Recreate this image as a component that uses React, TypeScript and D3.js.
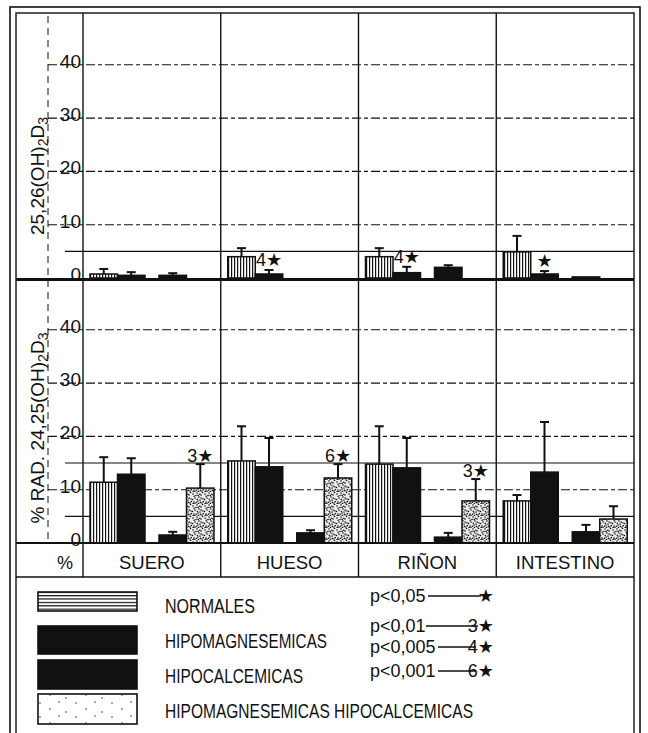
import React from "react";
import * as d3 from "d3";

// ---------- DATA ----------
const categories = ["SUERO", "HUESO", "RIÑON", "INTESTINO"];
const seriesNames = [
  "NORMALES",
  "HIPOMAGNESEMICAS",
  "HIPOCALCEMICAS",
  "HIPOMAGNESEMICAS  HIPOCALCEMICAS",
];
const yTicks = [0, 10, 20, 30, 40];

// Top panel: 25,26(OH)2D3 — means and SD per category
const top_normales = [0.75, 4.0, 4.0, 4.9];
const top_normales_sd = [0.95, 1.6, 1.6, 3.0];
const top_hipomag = [0.5, 0.75, 1.0, 0.75];
const top_hipomag_sd = [0.6, 0.75, 1.1, 0.55];
const top_hipocalc = [0.5, 0, 2.0, 0.2];
const top_hipocalc_sd = [0.4, 0, 0.4, 0];
const top_mix = [0, 0, 0, 0];
const top_mix_sd = [0, 0, 0, 0];

// Bottom panel: % RAD. 24,25(OH)2D3
const bot_normales = [11.4, 15.4, 14.8, 7.9];
const bot_normales_sd = [4.7, 6.5, 7.1, 1.1];
const bot_hipomag = [12.9, 14.3, 14.1, 13.3];
const bot_hipomag_sd = [3.0, 5.4, 5.6, 9.4];
const bot_hipocalc = [1.5, 1.9, 1.1, 2.1];
const bot_hipocalc_sd = [0.6, 0.5, 0.8, 1.3];
const bot_mix = [10.3, 12.2, 7.9, 4.5];
const bot_mix_sd = [4.5, 2.6, 4.1, 2.4];

// Significance annotations: [category, series index, label]
const top_annotations: [string, number, string][] = [
  ["HUESO", 1, "4★"],
  ["RIÑON", 1, "4★"],
  ["INTESTINO", 1, "★"],
];
const bot_annotations: [string, number, string][] = [
  ["SUERO", 3, "3★"],
  ["HUESO", 3, "6★"],
  ["RIÑON", 3, "3★"],
];

const pLabels = ["p<0,05", "p<0,01", "p<0,005", "p<0,001"];
const pStars = ["★", "3★", "4★", "6★"];

// ---------- LAYOUT ----------
const W = 648;
const H = 733;
const FONT = "'Liberation Sans', 'DejaVu Sans', Arial, sans-serif";
const INK = "#111";

const x = d3.scaleBand<string>().domain(categories).range([83, 634]).padding(0);
const sub = d3
  .scaleBand<string>()
  .domain(["0", "1", "2", "3"])
  .range([7, 117])
  .padding(0);
const groupGap = 14;
const barX = (cat: string, i: number) =>
  (x(cat) as number) + (sub(String(i)) as number) + (i >= 2 ? groupGap : 0);
const barW = sub.bandwidth();

const yTop = d3.scaleLinear().domain([0, 50]).range([278, 11.5]);
const yBot = d3.scaleLinear().domain([0, 50]).range([543, 276.5]);

const fills = ["url(#vstripe)", INK, INK, "url(#stipple)"];

type Panel = {
  y: d3.ScaleLinear<number, number>;
  vals: number[][];
  sds: number[][];
  ann: [string, number, string][];
  solid: number[];
  annOffset: number;
};

const panels: Panel[] = [
  {
    y: yTop,
    vals: [top_normales, top_hipomag, top_hipocalc, top_mix],
    sds: [top_normales_sd, top_hipomag_sd, top_hipocalc_sd, top_mix_sd],
    ann: top_annotations,
    solid: [5],
    annOffset: 4,
  },
  {
    y: yBot,
    vals: [bot_normales, bot_hipomag, bot_hipocalc, bot_mix],
    sds: [bot_normales_sd, bot_hipomag_sd, bot_hipocalc_sd, bot_mix_sd],
    ann: bot_annotations,
    solid: [5, 15],
    annOffset: 2,
  },
];

// fixed stipple dot positions inside a 12x12 tile (texture only)
const stippleDots = [
  [1, 2], [5, 1], [9, 3], [3, 6], [7, 5], [11, 7], [2, 10], [6, 9], [10, 11],
  [4, 3.5], [8, 8], [0.5, 7.5], [6.5, 11.5], [10.5, 0.5], [3, 11.2],
  [2.2, 4.3], [7.8, 2.2], [11.3, 9.6], [5.3, 7.2], [9.2, 6.1], [1.2, 11.6],
  [4.6, 10.2], [8.4, 10.4], [6.2, 3.4],
];
const sparseDots = [[4, 3], [14, 9], [23, 2], [30, 12]];

export default function App() {
  return (
    <svg
      width={W}
      height={H}
      viewBox={`0 0 ${W} ${H}`}
      style={{ position: "absolute", left: 0, top: 0, display: "block", background: "#fff" }}
      fontFamily={FONT}
    >
      <defs>
        <pattern id="vstripe" width={3} height={10} patternUnits="userSpaceOnUse">
          <rect width={3} height={10} fill="#fff" />
          <rect x={0} width={1.2} height={10} fill={INK} />
        </pattern>
        <pattern id="hstripe" width={10} height={3.4} patternUnits="userSpaceOnUse">
          <rect width={10} height={3.4} fill="#fff" />
          <rect y={0} width={10} height={1.2} fill={INK} />
        </pattern>
        <pattern id="stipple" width={12} height={12} patternUnits="userSpaceOnUse">
          <rect width={12} height={12} fill="#eee" />
          {stippleDots.map(([cx, cy], i) => (
            <circle key={i} cx={cx} cy={cy} r={0.8} fill={INK} />
          ))}
        </pattern>
        <pattern id="sparse" width={36} height={14} patternUnits="userSpaceOnUse">
          <rect width={36} height={14} fill="#fff" />
          {sparseDots.map(([cx, cy], i) => (
            <circle key={i} cx={cx} cy={cy} r={0.7} fill={INK} />
          ))}
        </pattern>
      </defs>

      {/* outer double frame */}
      <rect x={10} y={7} width={630} height={H + 20} fill="none" stroke={INK} strokeWidth={1.6} />
      <rect x={16} y={13} width={618} height={H + 20} fill="none" stroke={INK} strokeWidth={1.4} />

      {/* dashed vertical guide in the label column */}
      <line x1={48} x2={48} y1={16} y2={543} stroke={INK} strokeWidth={1} strokeDasharray="7 5" />

      {panels.map((p, pi) => (
        <g key={pi}>
          {yTicks.filter((t) => t > 0).map((t) => (
            <line
              key={t}
              x1={48}
              x2={634}
              y1={p.y(t)}
              y2={p.y(t)}
              stroke={INK}
              strokeWidth={1.1}
              strokeDasharray="9 3 4 3"
            />
          ))}
          {p.solid.map((t) => (
            <line key={t} x1={65} x2={634} y1={p.y(t)} y2={p.y(t)} stroke={INK} strokeWidth={1.1} />
          ))}
          {yTicks.map((t) => (
            <text key={t} x={81} y={p.y(t) + 3} textAnchor="end" fontSize={19} fill={INK}>
              {t}
            </text>
          ))}
          {categories.map((cat, ci) =>
            p.vals.map((vals, si) => {
              const v = vals[ci];
              const sd = p.sds[si][ci];
              const bx = barX(cat, si);
              const cx = bx + barW / 2;
              if (v <= 0) return null;
              return (
                <g key={cat + si}>
                  {sd > 0 && (
                    <g stroke={INK} strokeWidth={2}>
                      <line x1={cx} x2={cx} y1={p.y(v)} y2={p.y(v + sd)} />
                      <line x1={cx - 4.5} x2={cx + 4.5} y1={p.y(v + sd)} y2={p.y(v + sd)} />
                    </g>
                  )}
                  <rect
                    x={bx}
                    y={p.y(v)}
                    width={barW}
                    height={p.y(0) - p.y(v)}
                    fill={fills[si]}
                    stroke={INK}
                    strokeWidth={1.5}
                  />
                </g>
              );
            })
          )}
          {p.ann.map(([cat, si, label], k) => {
            const ci = categories.indexOf(cat);
            const top = p.vals[si][ci] + p.sds[si][ci];
            return (
              <text
                key={k}
                x={barX(cat, si) + barW / 2}
                y={p.y(top) - p.annOffset}
                textAnchor="middle"
                fontSize={18}
                fill={INK}
              >
                {label}
              </text>
            );
          })}
        </g>
      ))}

      {/* axis titles */}
      <text transform={`translate(44,176) rotate(-90)`} textAnchor="middle" fontSize={19} fill={INK}>
        25,26(OH)<tspan dy={4} fontSize={14}>2</tspan>
        <tspan dy={-4}>D</tspan>
        <tspan dy={4} fontSize={14}>3</tspan>
      </text>
      <text transform={`translate(44,428) rotate(-90)`} textAnchor="middle" fontSize={19} fill={INK}>
        % RAD.  24,25(OH)<tspan dy={4} fontSize={14}>2</tspan>
        <tspan dy={-4}>D</tspan>
        <tspan dy={4} fontSize={14}>3</tspan>
      </text>

      {/* baselines / panel divider */}
      <line x1={16} x2={634} y1={279.5} y2={279.5} stroke={INK} strokeWidth={3} />
      <line x1={16} x2={634} y1={543} y2={543} stroke={INK} strokeWidth={2} />
      <line x1={16} x2={634} y1={577} y2={577} stroke={INK} strokeWidth={1.6} />

      {/* column dividers */}
      {categories.map((cat) => (
        <line
          key={cat}
          x1={x(cat) as number}
          x2={x(cat) as number}
          y1={13}
          y2={577}
          stroke={INK}
          strokeWidth={1.4}
        />
      ))}

      {/* category row */}
      <text x={65} y={569} textAnchor="middle" fontSize={18} fill={INK}>
        %
      </text>
      {categories.map((cat) => (
        <text
          key={cat}
          x={(x(cat) as number) + x.bandwidth() / 2}
          y={569}
          textAnchor="middle"
          fontSize={18.5}
          fill={INK}
        >
          {cat}
        </text>
      ))}

      {/* legend */}
      {seriesNames.map((name, i) => {
        const sw = [
          [592, 19],
          [626, 28],
          [660, 29],
          [694, 30],
        ][i];
        const lf = ["url(#hstripe)", INK, INK, "url(#sparse)"][i];
        const widths = [90, 162, 138, 308];
        const baselines = [613, 648, 683, 718];
        return (
          <g key={name}>
            <rect x={38} y={sw[0]} width={99} height={sw[1]} fill={lf} stroke={INK} strokeWidth={1.6} />
            <text
              x={165}
              y={baselines[i]}
              fontSize={19.5}
              fill={INK}
              textLength={widths[i]}
              lengthAdjust="spacingAndGlyphs"
            >
              {name}
            </text>
          </g>
        );
      })}
      {pLabels.map((lab, i) => {
        const base = [602, 632, 653, 677][i];
        const textEnd = [428, 426, 438, 438][i];
        const lineEnd = [481, 478, 476, 476][i];
        return (
          <g key={lab}>
            <text x={370} y={base} fontSize={18} fill={INK}>
              {lab}
            </text>
            <line x1={textEnd} x2={lineEnd} y1={base - 6} y2={base - 6} stroke={INK} strokeWidth={1.3} />
            <text x={494} y={base} fontSize={18} textAnchor="end" fill={INK}>
              {pStars[i]}
            </text>
          </g>
        );
      })}
    </svg>
  );
}
